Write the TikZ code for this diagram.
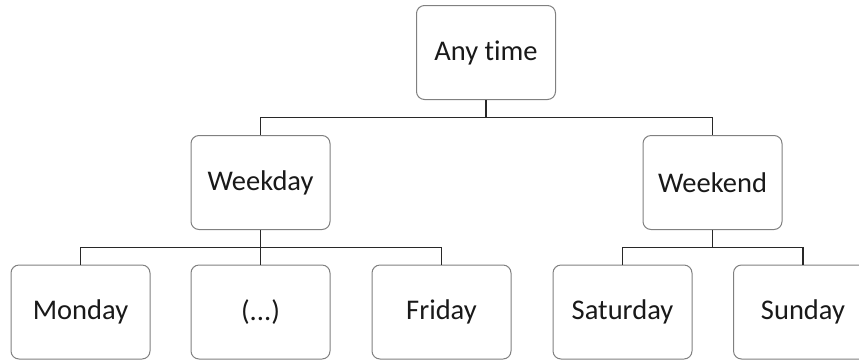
\documentclass[tikz,border=0pt]{standalone}
\usepackage{fontspec}
\setmainfont{Carlito}[Ligatures=NoCommon]
\usepackage{xcolor}
\usepackage{tikz}
\usetikzlibrary{positioning,calc}

\definecolor{boxgray}{RGB}{128,128,128}
\definecolor{linegray}{RGB}{40,40,40}
\definecolor{textgray}{RGB}{25,25,25}

\begin{document}
\begin{tikzpicture}[
    x=1pt, y=1pt,
    box/.style={rectangle, rounded corners=8pt, draw=boxgray, line width=1pt, fill=white, minimum width=139pt, minimum height=94pt, text=textgray, font=\fontsize{28.5}{34}\selectfont, align=center, inner sep=0pt},
    line/.style={-, draw=linegray, line width=1.5pt}
]

\useasboundingbox (0,0) rectangle (859,-360);

% Wurzel
\node[box] (any) at (486,-52.5) {Any time};

% Zweite Ebene
\node[box] (weekday) at (260.5,-182.5) {Weekday};
\node[box] (weekend) at (712.5,-182.5) {Weekend};

% Dritte Ebene
\node[box] (monday) at (80.5,-312) {Monday};
\node[box] (dots) at (260.5,-312) {(...)};
\node[box] (friday) at (441.5,-312) {Friday};
\node[box] (saturday) at (622.5,-312) {Saturday};
\node[box] (sunday) at (803,-312) {Sunday};

% Verbindungen
\draw[line] (any.south) |- ($(any.south)!0.5!(weekday.north)$) -| (weekday.north);
\draw[line] (any.south) |- ($(any.south)!0.5!(weekend.north)$) -| (weekend.north);

\draw[line] (weekday.south) |- ($(weekday.south)!0.5!(monday.north)$) -| (monday.north);
\draw[line] (weekday.south) -- (dots.north);
\draw[line] (weekday.south) |- ($(weekday.south)!0.5!(friday.north)$) -| (friday.north);

\draw[line] (weekend.south) |- ($(weekend.south)!0.5!(saturday.north)$) -| (saturday.north);
\draw[line] (weekend.south) |- ($(weekend.south)!0.5!(sunday.north)$) -| (sunday.north);

\end{tikzpicture}
\end{document}
